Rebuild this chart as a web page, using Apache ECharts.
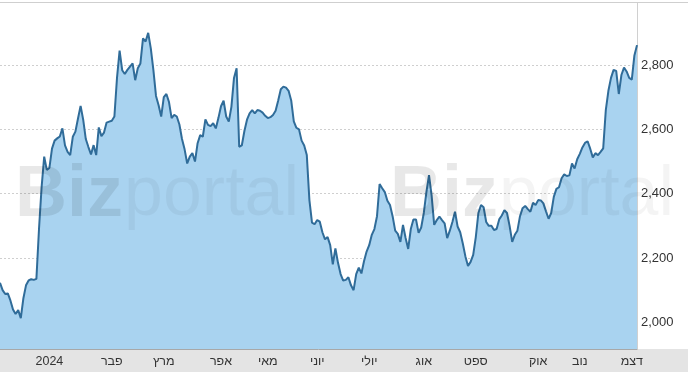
<!DOCTYPE html>
<html><head><meta charset="utf-8">
<script src="https://cdn.jsdelivr.net/npm/echarts@6/dist/echarts.min.js"></script>
<style>html,body{margin:0;padding:0;background:#fff}#c{width:688px;height:375px}</style>
</head><body><div id="c"></div>
<script>
// Daily closing values (trading days, Dec 2023 - Dec 2024)
const values = [2123,2100,2088,2090,2068,2040,2026,2038,2013,2075,
 2115,2130,2134,2132,2135,2290,2420,2515,2474,2480,
 2540,2565,2572,2578,2603,2550,2530,2520,2577,2593,
 2634,2673,2630,2570,2545,2522,2551,2520,2606,2579,
 2590,2621,2624,2627,2640,2760,2845,2784,2772,2785,
 2795,2805,2753,2790,2805,2883,2873,2900,2852,2784,
 2704,2675,2640,2700,2710,2685,2635,2645,2640,2615,
 2570,2538,2494,2515,2526,2500,2557,2582,2577,2631,
 2614,2610,2619,2603,2635,2672,2689,2640,2624,2670,
 2760,2790,2546,2550,2595,2630,2650,2660,2650,2660,
 2658,2652,2642,2635,2638,2645,2658,2690,2725,2733,
 2730,2720,2690,2625,2605,2600,2565,2550,2520,2380,
 2310,2305,2318,2313,2280,2258,2265,2240,2180,2230,
 2185,2150,2130,2132,2140,2115,2100,2150,2170,2152,
 2190,2220,2240,2272,2290,2330,2430,2417,2405,2378,
 2365,2330,2285,2275,2250,2303,2262,2228,2290,2320,
 2320,2278,2295,2340,2405,2458,2395,2303,2318,2329,
 2318,2308,2262,2285,2312,2344,2298,2280,2245,2205,
 2175,2188,2210,2265,2340,2365,2358,2312,2300,2300,
 2287,2290,2320,2332,2349,2340,2300,2250,2272,2285,
 2330,2355,2362,2352,2344,2372,2365,2380,2379,2370,
 2345,2322,2340,2390,2415,2420,2448,2460,2455,2457,
 2494,2478,2507,2524,2544,2558,2563,2540,2513,2526,
 2520,2530,2541,2660,2720,2760,2785,2782,2710,2769,
 2792,2780,2760,2755,2830,2862];
// First trading day of each month (index into values) and its label
const monthStartIndex = [19, 43, 63, 85, 103, 122, 142, 163, 183, 207, 223, 243];
const monthLabels = ['2024', 'פבר', 'מרץ', 'אפר', 'מאי', 'יוני', 'יולי', 'אוג', 'ספט', 'אוק', 'נוב', 'דצמ'];
const yTicks = [2000, 2200, 2400, 2600, 2800];

const categories = values.map((v, i) => {
  const k = monthStartIndex.indexOf(i);
  return k >= 0 ? monthLabels[k] : '';
});
const FONT = 'Arial, "Liberation Sans", "DejaVu Sans", sans-serif';
const chart = echarts.init(document.getElementById('c'), null, {renderer: 'canvas'});
chart.setOption({
  animation: false,
  backgroundColor: '#fff',
  grid: {left: 0, right: 51, top: 3, bottom: 26},
  xAxis: {
    type: 'category', data: categories, boundaryGap: false,
    axisLine: {show: true, lineStyle: {color: '#a8a8a8', width: 1}},
    axisTick: {show: false},
    axisLabel: {interval: (i, v) => v !== '', color: '#333', fontSize: 12.5, fontFamily: FONT, margin: 6},
    splitLine: {show: false}
  },
  yAxis: {
    type: 'value', position: 'right', min: 1917, max: 2993,
    axisLine: {show: true, lineStyle: {color: '#d0d0d0'}},
    axisTick: {show: false, customValues: yTicks},
    axisLabel: {customValues: yTicks, color: '#333', fontSize: 13, fontFamily: FONT, margin: 4,
      formatter: v => v.toLocaleString('en-US')},
    splitLine: {show: true, lineStyle: {color: '#cfcfcf', type: [2, 2], width: 1}}
  },
  series: [{
    type: 'line', data: values, showSymbol: false, symbol: 'none',
    lineStyle: {color: '#306c99', width: 2},
    areaStyle: {color: '#a9d3f0', opacity: 1},
    z: 2
  }],
  graphic: [
    {type: 'rect', z: -100, shape: {x: 0, y: 349, width: 688, height: 23}, style: {fill: '#e4e4e4'}},
    {type: 'line', z: 100, shape: {x1: 0, y1: 2.5, x2: 688, y2: 2.5}, style: {stroke: '#cfcfcf', lineWidth: 1}},
    {type: 'text', z: 100, x: 15, y: 196, style: {text: 'Biz', font: 'bold 72px Arial, "Liberation Sans"', fill: 'rgba(0,0,0,0.09)', verticalAlign: 'middle'}},
    {type: 'text', z: 100, x: 124, y: 196, style: {text: 'portal', font: '70px Arial, "Liberation Sans"', fill: 'rgba(0,0,0,0.045)', verticalAlign: 'middle'}},
    {type: 'text', z: 100, x: 390, y: 196, style: {text: 'Biz', font: 'bold 72px Arial, "Liberation Sans"', fill: 'rgba(0,0,0,0.09)', verticalAlign: 'middle'}},
    {type: 'text', z: 100, x: 499, y: 196, style: {text: 'portal', font: '70px Arial, "Liberation Sans"', fill: 'rgba(0,0,0,0.045)', verticalAlign: 'middle'}}
  ]
});
</script>
</body></html>
